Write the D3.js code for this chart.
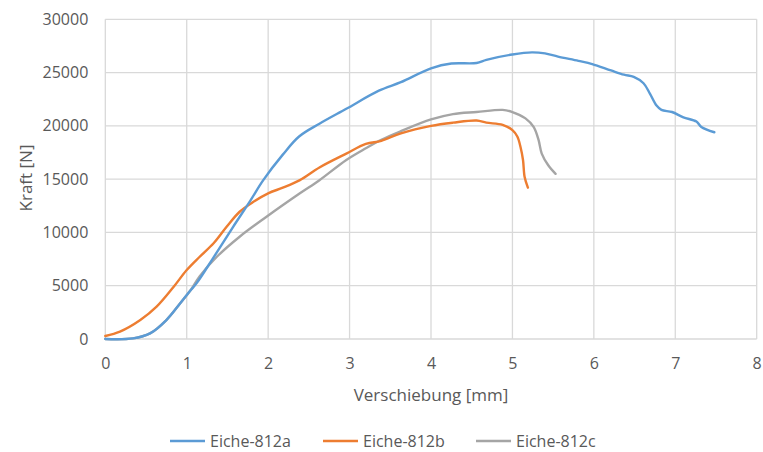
<!DOCTYPE html>
<html><head><meta charset="utf-8">
<script src="https://cdn.jsdelivr.net/npm/d3@7"></script>
<style>body{margin:0;background:#fff}svg{display:block}</style>
</head><body>
<svg id="c" width="763" height="452"></svg>
<script>
const seriesNames = ["Eiche-812a","Eiche-812b","Eiche-812c"];
const seriesColors = ["#5B9BD5","#ED7D31","#A5A5A5"];
const xTicks = [0,1,2,3,4,5,6,7,8];
const yTicks = [0,5000,10000,15000,20000,25000,30000];
const dispA = [0,0.34,0.55,0.75,0.92,1.04,1.12,1.33,1.57,1.78,1.94,2.18,2.38,2.63,2.96,3.36,3.63,4.0,4.25,4.56,4.68,5.0,5.24,5.4,5.56,5.81,5.98,6.21,6.37,6.49,6.61,6.69,6.77,6.83,6.96,7.1,7.26,7.32,7.48];
const forceA = [0,60,530,1780,3350,4500,5220,7660,10530,12970,14910,17300,19000,20200,21600,23300,24100,25400,25850,25900,26200,26700,26900,26800,26500,26100,25800,25200,24800,24600,24000,23000,21900,21500,21300,20800,20400,19900,19400];
const dispB = [0,0.18,0.43,0.63,0.84,1.0,1.16,1.33,1.49,1.65,1.82,2.0,2.18,2.39,2.63,2.96,3.2,3.39,3.63,4.0,4.27,4.56,4.68,4.88,5.0,5.06,5.1,5.13,5.15,5.19];
const forceB = [280,690,1780,3030,4900,6470,7720,8980,10530,11940,12880,13670,14200,14910,16100,17400,18300,18600,19300,20000,20300,20500,20300,20100,19600,19000,18000,16800,15200,14200];
const dispC = [0,0.34,0.55,0.75,0.92,1.04,1.16,1.37,1.65,1.98,2.39,2.63,2.96,3.2,3.39,3.63,4.0,4.27,4.56,4.88,5.0,5.16,5.26,5.32,5.36,5.44,5.53];
const forceC = [0,60,530,1780,3350,4500,5900,7720,9600,11470,13670,14900,16800,17900,18700,19500,20600,21100,21300,21500,21300,20700,19900,18700,17400,16300,15500];

const svg = d3.select("#c");
const L=105.3, R=756.7, T=19.3, B=339;
const x = d3.scaleLinear().domain([0,8]).range([L,R]);
const y = d3.scaleLinear().domain([0,30000]).range([B,T]);
const font = "'Open Sans', sans-serif";
const txt = "#595959";

const g = svg.append("g");
g.selectAll("line.h").data(yTicks).join("line")
  .attr("x1",L).attr("x2",R).attr("y1",d=>y(d)).attr("y2",d=>y(d))
  .attr("stroke","#d9d9d9").attr("stroke-width",1.3);
g.selectAll("line.v").data(xTicks).join("line")
  .attr("y1",T).attr("y2",B).attr("x1",d=>x(d)).attr("x2",d=>x(d))
  .attr("stroke","#d9d9d9").attr("stroke-width",1.3);

const xa = svg.append("g").attr("transform",`translate(0,${B})`)
  .call(d3.axisBottom(x).tickValues(xTicks).tickSize(0).tickPadding(19).tickFormat(d3.format("d")));
xa.select(".domain").remove();
xa.selectAll("text").attr("fill",txt).style("font-family",font).style("font-size","16px");
const ya = svg.append("g").attr("transform",`translate(${L},0)`)
  .call(d3.axisLeft(y).tickValues(yTicks).tickSize(0).tickPadding(17).tickFormat(d3.format("d")));
ya.select(".domain").remove();
ya.selectAll("text").attr("fill",txt).style("font-family",font).style("font-size","16px");

const data = [d3.zip(dispA,forceA), d3.zip(dispB,forceB), d3.zip(dispC,forceC)];
const lineN = d3.line().x(d=>x(d[0])).y(d=>y(d[1])).curve(d3.curveCatmullRom.alpha(0.5));
[2,1,0].forEach(i=>{
  svg.append("path").attr("d",lineN(data[i])).attr("fill","none")
    .attr("stroke",seriesColors[i]).attr("stroke-width",2.4).attr("stroke-linejoin","round").attr("stroke-linecap","round");
});

svg.append("text").attr("x",431).attr("y",401).attr("text-anchor","middle")
  .attr("fill",txt).style("font-family",font).style("font-size","17px").text("Verschiebung [mm]");
svg.append("text").attr("transform","translate(32,178) rotate(-90)").attr("text-anchor","middle")
  .attr("fill",txt).style("font-family",font).style("font-size","17px").text("Kraft [N]");

const legX = [170,323,476];
seriesNames.forEach((n,i)=>{
  svg.append("line").attr("x1",legX[i]).attr("x2",legX[i]+35).attr("y1",441).attr("y2",441)
    .attr("stroke",seriesColors[i]).attr("stroke-width",2.4);
  svg.append("text").attr("x",legX[i]+40).attr("y",447).attr("fill",txt)
    .style("font-family",font).style("font-size","16px").text(n);
});
</script>
</body></html>
